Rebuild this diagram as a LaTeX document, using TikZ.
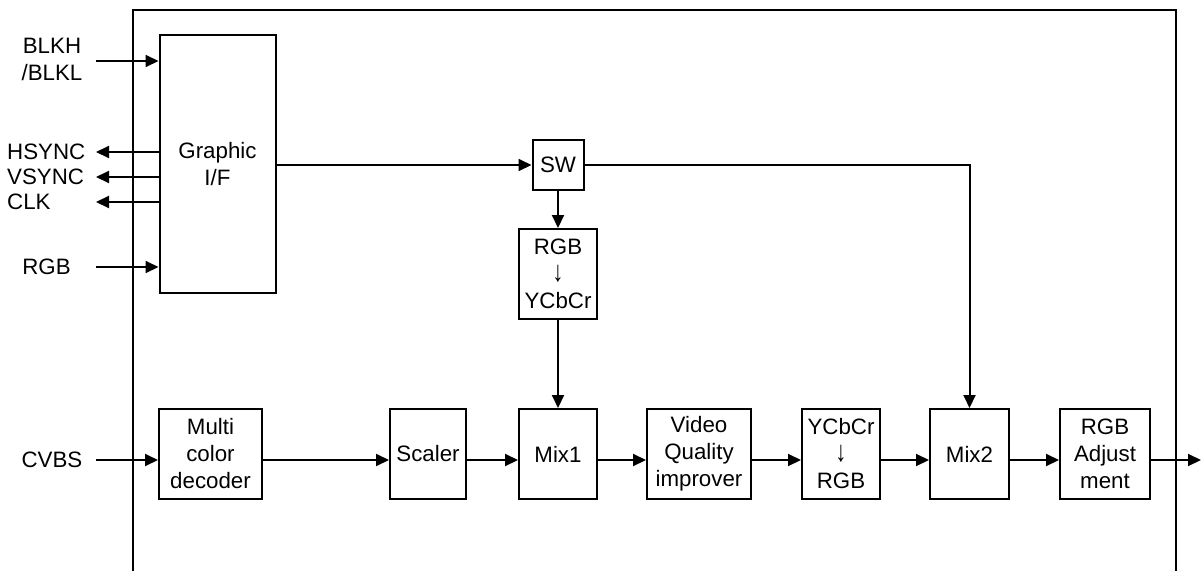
\documentclass[tikz,border=0pt]{standalone}
\usepackage{fontspec}
\setmainfont{Liberation Sans}
\usetikzlibrary{arrows.meta}
\newcommand{\darr}{\scalebox{1}[1.3]{↓}}
\begin{document}
\begin{tikzpicture}[x=1pt,y=-1pt,
  blk/.style={draw,line width=2pt,inner sep=0pt,align=center,font=\fontsize{22.3}{27}\selectfont},
  lbl/.style={inner sep=0pt,align=center,font=\fontsize{22.3}{27}\selectfont},
  con/.style={line width=2pt,-{Triangle[length=13pt,width=12pt]}}]
\useasboundingbox (0,0) rectangle (1202,571);
% outer frame (open at the bottom)
\draw[line width=2.2pt] (133,571) -- (133,10) -- (1176,10) -- (1176,571);
% blocks
\node[blk,minimum width=116pt,minimum height=258pt] (gif) at (217.5,164) {Graphic\\I/F};
\node[blk,minimum width=51pt,minimum height=50pt] (sw) at (558,165) {SW};
\node[blk,minimum width=78pt,minimum height=90pt] (r2y) at (558,274) {RGB\\\darr\\YCbCr};
\node[blk,minimum width=103pt,minimum height=90pt] (dec) at (210.5,454) {Multi\\color\\decoder};
\node[blk,minimum width=76pt,minimum height=90pt] (sc) at (428,454) {Scaler};
\node[blk,minimum width=78pt,minimum height=90pt] (mix1) at (558,454) {Mix1};
\node[blk,minimum width=104pt,minimum height=90pt] (vq) at (699,454) {Video\\Quality\\improver};
\node[blk,minimum width=78pt,minimum height=90pt] (y2r) at (841,454) {YCbCr\\\darr\\RGB};
\node[blk,minimum width=79pt,minimum height=90pt] (mix2) at (969.5,454) {Mix2};
\node[blk,minimum width=90pt,minimum height=90pt] (adj) at (1105,454) {RGB\\Adjust\\ment};
% left labels
\node[lbl] (blk) at (52,59) {BLKH\\/BLKL};
\node[lbl,anchor=west] (hs) at (7,152) {HSYNC};
\node[lbl,anchor=west] (vs) at (7,177) {VSYNC};
\node[lbl,anchor=west] (clk) at (7,202) {CLK};
\node[lbl] (rgb) at (46.5,267) {RGB};
\node[lbl] (cvbs) at (52,460) {CVBS};
% coordinates for free ends
\coordinate (blkin) at (96,61);
\coordinate (hsout) at (96,152);
\coordinate (vsout) at (96,177);
\coordinate (clkout) at (96,202);
\coordinate (rgbin) at (96,267);
\coordinate (cvbsin) at (96,460);
\coordinate (out) at (1201,460);
% connectors
\draw[con] (blkin) -- (gif.west |- blkin);
\draw[con] (gif.west |- hsout) -- (hsout);
\draw[con] (gif.west |- vsout) -- (vsout);
\draw[con] (gif.west |- clkout) -- (clkout);
\draw[con] (rgbin) -- (gif.west |- rgbin);
\draw[con] (gif.east |- sw.west) -- (sw.west);
\draw[con] (sw.south) -- (r2y.north);
\draw[con] (r2y.south) -- (mix1.north);
\draw[con] (sw.east) -| (mix2.north);
\draw[con] (cvbsin) -- (dec.west |- cvbsin);
\draw[con] (dec.east |- cvbsin) -- (sc.west |- cvbsin);
\draw[con] (sc.east |- cvbsin) -- (mix1.west |- cvbsin);
\draw[con] (mix1.east |- cvbsin) -- (vq.west |- cvbsin);
\draw[con] (vq.east |- cvbsin) -- (y2r.west |- cvbsin);
\draw[con] (y2r.east |- cvbsin) -- (mix2.west |- cvbsin);
\draw[con] (mix2.east |- cvbsin) -- (adj.west |- cvbsin);
\draw[con] (adj.east |- out) -- (out);
\end{tikzpicture}
\end{document}
